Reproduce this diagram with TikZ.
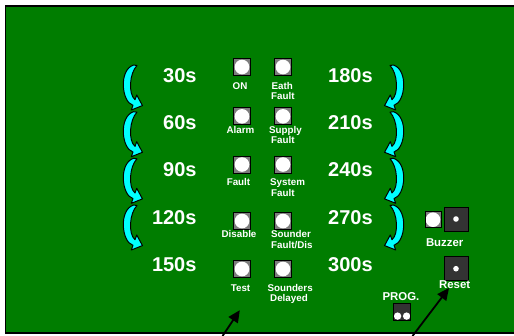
\documentclass[tikz,border=0pt]{standalone}
\usepackage{fontspec}
\setmainfont{Liberation Sans}
\usetikzlibrary{arrows.meta}
\definecolor{board}{RGB}{0,125,0}
\definecolor{curlcyan}{RGB}{0,255,255}
\definecolor{btngray}{RGB}{51,51,51}
\definecolor{ledgray}{RGB}{125,125,125}
\tikzset{
  curl/.pic={
    \path[draw=black,fill=curlcyan,line width=1pt,line join=round]
      (0,0) -- (3.5,0.5) .. controls (-4,8) and (-5.5,29) .. (1.52,34.68)
      -- (3.22,29.98) -- (8.96,40.56) -- (-2.22,45.02) -- (-0.52,40.32)
      .. controls (-12,37) and (-15,5) .. (0,0) -- cycle;
  }
}
\begin{document}
\begin{tikzpicture}[x=1pt,y=-1pt,
  biglbl/.style={text=white,font=\fontsize{20}{24}\selectfont\bfseries,inner sep=0pt},
  smlbl/.style={text=white,font=\fontsize{9.8}{11}\selectfont\bfseries,inner sep=0pt},
  btnlbl/.style={text=white,font=\fontsize{11.4}{13}\selectfont\bfseries,inner sep=0pt},
  led/.style={draw=black,line width=0.8pt,fill=ledgray,minimum size=17pt,inner sep=0pt,
    path picture={\fill[white] (path picture bounding box.center) circle[radius=7.3pt];}},
  bigbtn/.style={draw=black,line width=0.9pt,fill=btngray,minimum size=24pt,inner sep=0pt,
    path picture={\fill[white] (path picture bounding box.center) circle[radius=2.8pt];}},
  jumper/.style={draw=black,line width=0.6pt,fill=btngray,minimum size=17pt,inner sep=0pt,
    path picture={\fill[white] ([xshift=-4.4pt,yshift=-4.4pt]path picture bounding box.center) circle[radius=3.7pt];
                  \fill[white] ([xshift=4.6pt,yshift=-4.4pt]path picture bounding box.center) circle[radius=3.7pt];}},
  ptr/.style={draw=black,line width=1.8pt,-{Triangle[length=12pt,width=11pt]}}
]
\useasboundingbox (0,0) rectangle (514,335);
\clip (0,0) rectangle (514,335);
\fill[white] (0,0) rectangle (514,335);
% board
\draw[fill=board,line width=1.5pt] (5.5,6) rectangle (530,333);

% curly arrows
\foreach \yy in {65,111.7,158.3,205} {
  \pic at (133.5,\yy) {curl};
  \pic[xscale=-1] at (393.5,\yy) {curl};
}

% time labels
\node[biglbl,anchor=base east] (l30)  at (196.7,82.3)  {30s};
\node[biglbl,anchor=base east] (l60)  at (196.7,129.3) {60s};
\node[biglbl,anchor=base east] (l90)  at (196.7,176.7) {90s};
\node[biglbl,anchor=base east] (l120) at (196.7,224)   {120s};
\node[biglbl,anchor=base east] (l150) at (196.7,271.3) {150s};
\node[biglbl,anchor=base west] (l180) at (328,82.3)  {180s};
\node[biglbl,anchor=base west] (l210) at (328,129.3) {210s};
\node[biglbl,anchor=base west] (l240) at (328,176.7) {240s};
\node[biglbl,anchor=base west] (l270) at (328,224)   {270s};
\node[biglbl,anchor=base west] (l300) at (328,271.3) {300s};

% LEDs
\node[led] (ledon)  at (242,67) {};
\node[led] (ledef)  at (283,67) {};
\node[led] (ledal)  at (242,116.3) {};
\node[led] (ledsf)  at (283,116.3) {};
\node[led] (ledfa)  at (242,164.5) {};
\node[led] (ledsy)  at (283,164.5) {};
\node[led] (leddi)  at (242,221) {};
\node[led] (ledso)  at (283,221) {};
\node[led] (ledte)  at (242,269) {};
\node[led] (ledsd)  at (283,269) {};

% LED labels, column 1
\node[smlbl,anchor=base] (ton) at (240,89.2)  {ON};
\node[smlbl,anchor=base] (tal) at (240.5,133.5) {Alarm};
\node[smlbl,anchor=base] (tfa) at (238.5,185.8) {Fault};
\node[smlbl,anchor=base] (tdi) at (239,237.5) {Disable};
\node[smlbl,anchor=base] (tte) at (240.5,291.2) {Test};
% LED labels, column 2
\node[smlbl,anchor=base west] (tef1) at (271.5,89.2)  {Eath};
\node[smlbl,anchor=base west] (tef2) at (271,99.5)  {Fault};
\node[smlbl,anchor=base west] (tsf1) at (269,133.5) {Supply};
\node[smlbl,anchor=base west] (tsf2) at (271,143.5) {Fault};
\node[smlbl,anchor=base west] (tsy1) at (270,185.8) {System};
\node[smlbl,anchor=base west] (tsy2) at (271,196.2) {Fault};
\node[smlbl,anchor=base west] (tso1) at (271,237.5) {Sounder};
\node[smlbl,anchor=base west] (tso2) at (271,248.5) {Fault/Dis};
\node[smlbl,anchor=base west] (tsd1) at (267.3,291.2) {Sounders};
\node[smlbl,anchor=base west] (tsd2) at (270,301.8) {Delayed};

% buzzer, reset, prog
\node[led,minimum size=16pt] (ledbz) at (433,219.7) {};
\node[bigbtn] (bbz) at (456,219) {};
\node[btnlbl,anchor=base] (tbz) at (444.7,246.4) {Buzzer};
\node[bigbtn] (brs) at (456,268.7) {};
\node[btnlbl,anchor=base] (trs) at (454.7,288.4) {Reset};
\node[btnlbl,anchor=base] (tpg) at (401,300.1) {PROG.};
\node[jumper] (jpg) at (402,311.7) {};

% pointer arrows
\coordinate (p1s) at (222.5,336);
\coordinate (p1e) at (239.8,310.2);
\coordinate (p2s) at (412.5,336);
\coordinate (p2e) at (449,288);
\draw[ptr] (p1s) -- (p1e);
\draw[ptr] (p2s) -- (p2e);
\end{tikzpicture}
\end{document}
